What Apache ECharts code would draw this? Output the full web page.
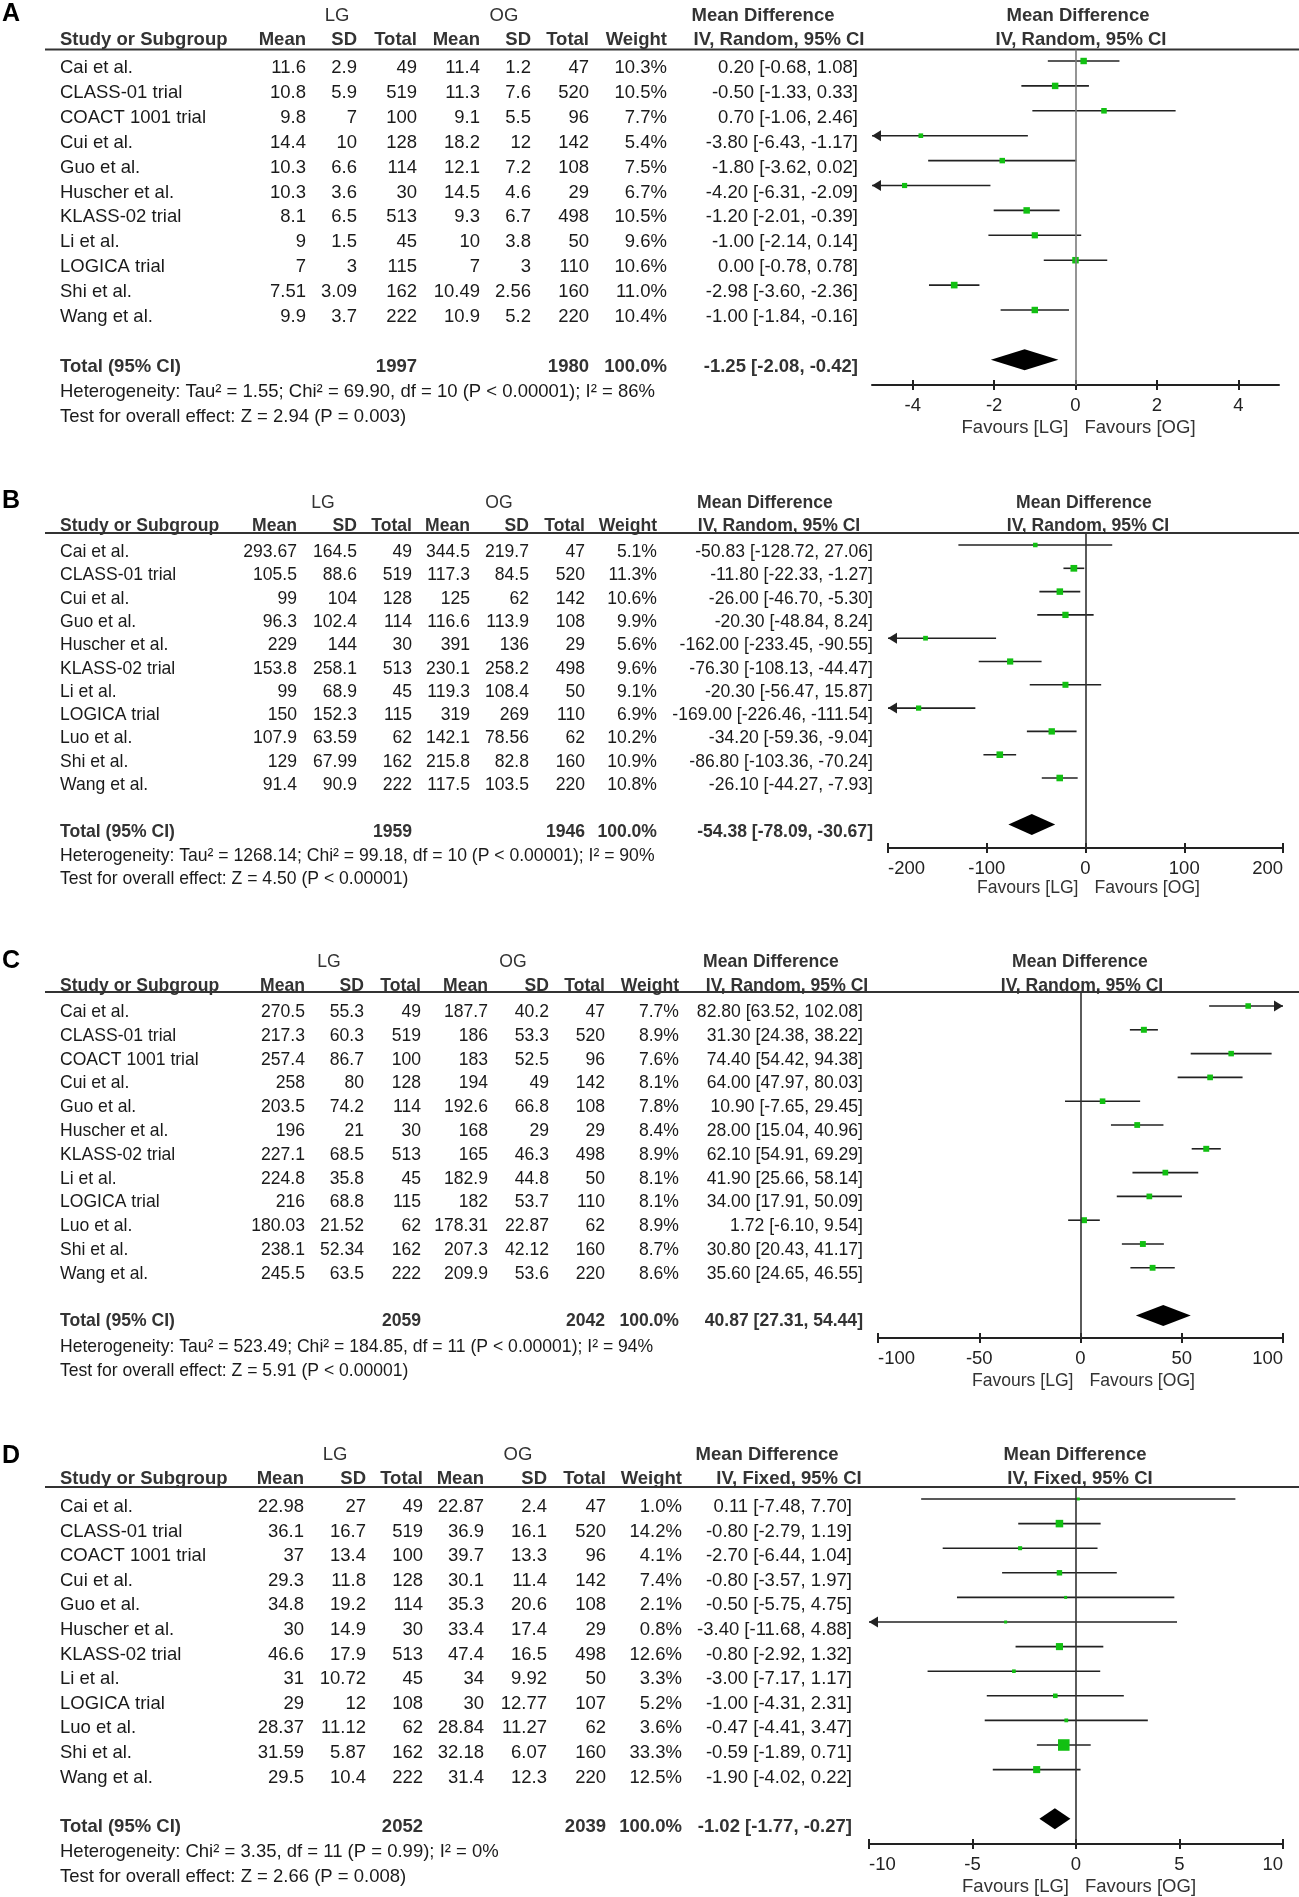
<!DOCTYPE html>
<html><head><meta charset="utf-8">
<script src="https://cdn.jsdelivr.net/npm/echarts@6/dist/echarts.min.js"></script>
<style>html,body{margin:0;padding:0;background:#fff}#c{width:1299px;height:1897px}</style>
</head><body><div id="c"></div>
<script>
// ---------------- DATA ----------------
// Panel A
const studyA = ['Cai et al.','CLASS-01 trial','COACT 1001 trial','Cui et al.','Guo et al.','Huscher et al.','KLASS-02 trial','Li et al.','LOGICA trial','Shi et al.','Wang et al.'];
const lgMeanA = [11.6,10.8,9.8,14.4,10.3,10.3,8.1,9,7,7.51,9.9];
const lgSdA   = [2.9,5.9,7,10,6.6,3.6,6.5,1.5,3,3.09,3.7];
const lgNA    = [49,519,100,128,114,30,513,45,115,162,222];
const ogMeanA = [11.4,11.3,9.1,18.2,12.1,14.5,9.3,10,7,10.49,10.9];
const ogSdA   = [1.2,7.6,5.5,12,7.2,4.6,6.7,3.8,3,2.56,5.2];
const ogNA    = [47,520,96,142,108,29,498,50,110,160,220];
const weightA = [10.3,10.5,7.7,5.4,7.5,6.7,10.5,9.6,10.6,11.0,10.4];
const mdA = [0.20,-0.50,0.70,-3.80,-1.80,-4.20,-1.20,-1.00,0.00,-2.98,-1.00];
const loA = [-0.68,-1.33,-1.06,-6.43,-3.62,-6.31,-2.01,-2.14,-0.78,-3.60,-1.84];
const hiA = [1.08,0.33,2.46,-1.17,0.02,-2.09,-0.39,0.14,0.78,-2.36,-0.16];
const totalA = [1997,1980,100.0,-1.25,-2.08,-0.42];
const hetA = 'Heterogeneity: Tau² = 1.55; Chi² = 69.90, df = 10 (P < 0.00001); I² = 86%';
const testA = 'Test for overall effect: Z = 2.94 (P = 0.003)';
const ticksA = [-4,-2,0,2,4];

// Panel B
const studyB = ['Cai et al.','CLASS-01 trial','Cui et al.','Guo et al.','Huscher et al.','KLASS-02 trial','Li et al.','LOGICA trial','Luo et al.','Shi et al.','Wang et al.'];
const lgMeanB = [293.67,105.5,99,96.3,229,153.8,99,150,107.9,129,91.4];
const lgSdB   = [164.5,88.6,104,102.4,144,258.1,68.9,152.3,63.59,67.99,90.9];
const lgNB    = [49,519,128,114,30,513,45,115,62,162,222];
const ogMeanB = [344.5,117.3,125,116.6,391,230.1,119.3,319,142.1,215.8,117.5];
const ogSdB   = [219.7,84.5,62,113.9,136,258.2,108.4,269,78.56,82.8,103.5];
const ogNB    = [47,520,142,108,29,498,50,110,62,160,220];
const weightB = [5.1,11.3,10.6,9.9,5.6,9.6,9.1,6.9,10.2,10.9,10.8];
const mdB = [-50.83,-11.80,-26.00,-20.30,-162.00,-76.30,-20.30,-169.00,-34.20,-86.80,-26.10];
const loB = [-128.72,-22.33,-46.70,-48.84,-233.45,-108.13,-56.47,-226.46,-59.36,-103.36,-44.27];
const hiB = [27.06,-1.27,-5.30,8.24,-90.55,-44.47,15.87,-111.54,-9.04,-70.24,-7.93];
const totalB = [1959,1946,100.0,-54.38,-78.09,-30.67];
const hetB = 'Heterogeneity: Tau² = 1268.14; Chi² = 99.18, df = 10 (P < 0.00001); I² = 90%';
const testB = 'Test for overall effect: Z = 4.50 (P < 0.00001)';
const ticksB = [-200,-100,0,100,200];

// Panel C
const studyC = ['Cai et al.','CLASS-01 trial','COACT 1001 trial','Cui et al.','Guo et al.','Huscher et al.','KLASS-02 trial','Li et al.','LOGICA trial','Luo et al.','Shi et al.','Wang et al.'];
const lgMeanC = [270.5,217.3,257.4,258,203.5,196,227.1,224.8,216,180.03,238.1,245.5];
const lgSdC   = [55.3,60.3,86.7,80,74.2,21,68.5,35.8,68.8,21.52,52.34,63.5];
const lgNC    = [49,519,100,128,114,30,513,45,115,62,162,222];
const ogMeanC = [187.7,186,183,194,192.6,168,165,182.9,182,178.31,207.3,209.9];
const ogSdC   = [40.2,53.3,52.5,49,66.8,29,46.3,44.8,53.7,22.87,42.12,53.6];
const ogNC    = [47,520,96,142,108,29,498,50,110,62,160,220];
const weightC = [7.7,8.9,7.6,8.1,7.8,8.4,8.9,8.1,8.1,8.9,8.7,8.6];
const mdC = [82.80,31.30,74.40,64.00,10.90,28.00,62.10,41.90,34.00,1.72,30.80,35.60];
const loC = [63.52,24.38,54.42,47.97,-7.65,15.04,54.91,25.66,17.91,-6.10,20.43,24.65];
const hiC = [102.08,38.22,94.38,80.03,29.45,40.96,69.29,58.14,50.09,9.54,41.17,46.55];
const totalC = [2059,2042,100.0,40.87,27.31,54.44];
const hetC = 'Heterogeneity: Tau² = 523.49; Chi² = 184.85, df = 11 (P < 0.00001); I² = 94%';
const testC = 'Test for overall effect: Z = 5.91 (P < 0.00001)';
const ticksC = [-100,-50,0,50,100];

// Panel D
const studyD = ['Cai et al.','CLASS-01 trial','COACT 1001 trial','Cui et al.','Guo et al.','Huscher et al.','KLASS-02 trial','Li et al.','LOGICA trial','Luo et al.','Shi et al.','Wang et al.'];
const lgMeanD = [22.98,36.1,37,29.3,34.8,30,46.6,31,29,28.37,31.59,29.5];
const lgSdD   = [27,16.7,13.4,11.8,19.2,14.9,17.9,10.72,12,11.12,5.87,10.4];
const lgND    = [49,519,100,128,114,30,513,45,108,62,162,222];
const ogMeanD = [22.87,36.9,39.7,30.1,35.3,33.4,47.4,34,30,28.84,32.18,31.4];
const ogSdD   = [2.4,16.1,13.3,11.4,20.6,17.4,16.5,9.92,12.77,11.27,6.07,12.3];
const ogND    = [47,520,96,142,108,29,498,50,107,62,160,220];
const weightD = [1.0,14.2,4.1,7.4,2.1,0.8,12.6,3.3,5.2,3.6,33.3,12.5];
const mdD = [0.11,-0.80,-2.70,-0.80,-0.50,-3.40,-0.80,-3.00,-1.00,-0.47,-0.59,-1.90];
const loD = [-7.48,-2.79,-6.44,-3.57,-5.75,-11.68,-2.92,-7.17,-4.31,-4.41,-1.89,-4.02];
const hiD = [7.70,1.19,1.04,1.97,4.75,4.88,1.32,1.17,2.31,3.47,0.71,0.22];
const totalD = [2052,2039,100.0,-1.02,-1.77,-0.27];
const hetD = 'Heterogeneity: Chi² = 3.35, df = 11 (P = 0.99); I² = 0%';
const testD = 'Test for overall effect: Z = 2.66 (P = 0.008)';
const ticksD = [-10,-5,0,5,10];

// ---------------- LAYOUT (positions only) ----------------
const FONT = '"Liberation Sans", Arial, Helvetica, sans-serif';
const FS = 18.5;
const layoutA = {label:'A', labelY:14, groupY:16, headY:40, lineY:49.5, rowY0:68, step:24.9, ciOff:7, hetY:392, testY:417,
  axisY:385, xMin:-5, xMax:5, plotL:872, plotR:1279, cols:[306,357,417,480,531,589,667], ciR:858, lgX:337, ogX:504,
  mdH:[763,779], rH:[1078,1081], favY:428, sx:1, zeroColor:'#7a7a7a', method:'IV, Random, 95% CI'};
const layoutB = {label:'B', labelY:501, groupY:503, headY:526, lineY:533, rowY0:552, step:23.3, ciOff:7, hetY:856, testY:879,
  axisY:848, xMin:-200, xMax:200, plotL:888, plotR:1283, cols:[297,357,412,470,529,585,657], ciR:873, lgX:323, ogX:499,
  mdH:[765,779], rH:[1084,1088], favY:888, sx:0.95, zeroColor:'#333', method:'IV, Random, 95% CI'};
const layoutC = {label:'C', labelY:961.5, groupY:962, headY:986, lineY:992, rowY0:1012, step:23.8, ciOff:6, hetY:1347, testY:1371,
  axisY:1338, xMin:-100, xMax:100, plotL:878, plotR:1283, cols:[305,364,421,488,549,605,679], ciR:863, lgX:329, ogX:513,
  mdH:[771,787], rH:[1080,1082], favY:1381, sx:0.95, zeroColor:'#333', method:'IV, Random, 95% CI'};
const layoutD = {label:'D', labelY:1456, groupY:1455, headY:1479, lineY:1487, rowY0:1507, step:24.6, ciOff:8, hetY:1852, testY:1877,
  axisY:1844, xMin:-10, xMax:10, plotL:869, plotR:1283, cols:[304,366,423,484,547,606,682], ciR:852, lgX:335, ogX:518,
  mdH:[767,789], rH:[1075,1080], favY:1887, sx:1, zeroColor:'#333', method:'IV, Fixed, 95% CI'};

const panels = [
  {L:layoutA, study:studyA, cols:[lgMeanA,lgSdA,lgNA,ogMeanA,ogSdA,ogNA], weight:weightA, md:mdA, lo:loA, hi:hiA, total:totalA, het:hetA, test:testA, ticks:ticksA},
  {L:layoutB, study:studyB, cols:[lgMeanB,lgSdB,lgNB,ogMeanB,ogSdB,ogNB], weight:weightB, md:mdB, lo:loB, hi:hiB, total:totalB, het:hetB, test:testB, ticks:ticksB},
  {L:layoutC, study:studyC, cols:[lgMeanC,lgSdC,lgNC,ogMeanC,ogSdC,ogNC], weight:weightC, md:mdC, lo:loC, hi:hiC, total:totalC, het:hetC, test:testC, ticks:ticksC},
  {L:layoutD, study:studyD, cols:[lgMeanD,lgSdD,lgND,ogMeanD,ogSdD,ogND], weight:weightD, md:mdD, lo:loD, hi:hiD, total:totalD, het:hetD, test:testD, ticks:ticksD}
];

function txt(x, y, text, o) {
  o = o || {};
  return {type:'text', x:x, y:y, scaleX:o.sx || 1, silent:true, z:10,
    style:{x:0, y:0, text:String(text), fill:o.color || '#1a1a1a',
      font:(o.bold ? 'bold ' : '') + (o.size || FS) + 'px ' + FONT,
      textAlign:o.align || 'left', textVerticalAlign:'middle', verticalAlign:'middle'}};
}
function ci(m, l, h) { return m.toFixed(2) + ' [' + l.toFixed(2) + ', ' + h.toFixed(2) + ']'; }

const grids = [], xAxes = [], yAxes = [], series = [], graphics = [];
const headerNames = ['Mean','SD','Total','Mean','SD','Total','Weight'];

panels.forEach(function (p, k) {
  const L = p.L, n = p.study.length, sx = L.sx;
  const totalIdx = n + 1;
  const ciY0 = L.rowY0 - L.ciOff;
  const yMin = (L.lineY - ciY0) / L.step, yMax = (L.axisY - ciY0) / L.step;
  const rowY = function (i) { return L.rowY0 + i * L.step; };
  const zeroPx = L.plotL + (0 - L.xMin) / (L.xMax - L.xMin) * (L.plotR - L.plotL);

  // ---- texts ----
  graphics.push(txt(2, L.labelY, L.label, {bold:true, size:25, color:'#000'}));
  graphics.push(txt(L.lgX, L.groupY, 'LG', {align:'center', color:'#333', sx:sx}));
  graphics.push(txt(L.ogX, L.groupY, 'OG', {align:'center', color:'#333', sx:sx}));
  graphics.push(txt(L.mdH[0], L.groupY, 'Mean Difference', {align:'center', bold:true, color:'#333', sx:sx}));
  graphics.push(txt(L.mdH[1], L.headY, L.method, {align:'center', bold:true, color:'#333', sx:sx}));
  graphics.push(txt(L.rH[0], L.groupY, 'Mean Difference', {align:'center', bold:true, color:'#333', sx:sx}));
  graphics.push(txt(L.rH[1], L.headY, L.method, {align:'center', bold:true, color:'#333', sx:sx}));
  graphics.push(txt(60, L.headY, 'Study or Subgroup', {bold:true, color:'#333', sx:sx}));
  headerNames.forEach(function (h, j) {
    graphics.push(txt(L.cols[j], L.headY, h, {bold:true, color:'#333', align:'right', sx:sx}));
  });
  graphics.push({type:'line', silent:true, z:5, shape:{x1:45, y1:L.lineY, x2:1299, y2:L.lineY}, style:{stroke:'#333', lineWidth:2}});

  for (let i = 0; i < n; i++) {
    const y = rowY(i);
    graphics.push(txt(60, y, p.study[i], {sx:sx}));
    p.cols.forEach(function (arr, j) {
      graphics.push(txt(L.cols[j], y, arr[i], {align:'right', sx:sx}));
    });
    graphics.push(txt(L.cols[6], y, p.weight[i].toFixed(1) + '%', {align:'right', sx:sx}));
    graphics.push(txt(L.ciR, y, ci(p.md[i], p.lo[i], p.hi[i]), {align:'right', sx:sx}));
  }
  const ty = rowY(totalIdx);
  graphics.push(txt(60, ty, 'Total (95% CI)', {bold:true, color:'#333', sx:sx}));
  graphics.push(txt(L.cols[2], ty, p.total[0], {bold:true, color:'#333', align:'right', sx:sx}));
  graphics.push(txt(L.cols[5], ty, p.total[1], {bold:true, color:'#333', align:'right', sx:sx}));
  graphics.push(txt(L.cols[6], ty, p.total[2].toFixed(1) + '%', {bold:true, color:'#333', align:'right', sx:sx}));
  graphics.push(txt(L.ciR, ty, ci(p.total[3], p.total[4], p.total[5]), {bold:true, color:'#333', align:'right', sx:sx}));
  graphics.push(txt(60, L.hetY, p.het, {sx:sx}));
  graphics.push(txt(60, L.testY, p.test, {sx:sx}));
  graphics.push(txt(zeroPx - 7, L.favY, 'Favours [LG]', {align:'right', color:'#333', sx:sx}));
  graphics.push(txt(zeroPx + 9, L.favY, 'Favours [OG]', {align:'left', color:'#333', sx:sx}));

  // ---- axes ----
  const endTicks = p.ticks[0] === L.xMin;
  grids.push({left:L.plotL, top:L.lineY, width:L.plotR - L.plotL, height:L.axisY - L.lineY, containLabel:false, outerBoundsMode:'none'});
  xAxes.push({gridIndex:k, type:'value', min:L.xMin, max:L.xMax, position:'bottom',
    axisLine:{show:true, onZero:false, lineStyle:{color:'#222', width:2}},
    axisTick:{show:true, length:5, customValues:p.ticks, lineStyle:{color:'#222', width:2}},
    axisLabel:{show:true, customValues:p.ticks, fontSize:FS, fontFamily:FONT, color:'#222', margin:11,
      alignMinLabel: endTicks ? 'left' : 'center', alignMaxLabel: endTicks ? 'right' : 'center'},
    splitLine:{show:false}});
  xAxes.push({gridIndex:k, type:'value', min:L.xMin, max:L.xMax, position:'bottom',
    axisLine:{show:false, onZero:false},
    axisTick:{show:true, inside:true, length:5, customValues:p.ticks, lineStyle:{color:'#222', width:2}},
    axisLabel:{show:false}, splitLine:{show:false}});
  yAxes.push({gridIndex:k, type:'value', inverse:true, min:yMin, max:yMax, show:false, splitLine:{show:false}});

  // ---- marks ----
  const rows = [];
  for (let i = 0; i < n; i++) rows.push([p.md[i], i, p.lo[i], p.hi[i], p.weight[i]]);
  series.push({
    type:'custom', xAxisIndex:2 * k, yAxisIndex:k, data:rows, silent:true, z:3,
    renderItem:function (params, api) {
      const md = api.value(0), row = api.value(1), lo = api.value(2), hi = api.value(3), w = api.value(4);
      const lc = Math.max(lo, L.xMin), hc = Math.min(hi, L.xMax);
      const a = api.coord([lc, row]), b = api.coord([hc, row]), m = api.coord([md, row]);
      const kids = [{type:'line', shape:{x1:a[0], y1:a[1], x2:b[0], y2:b[1]}, style:{stroke:'#222', lineWidth:1.6}}];
      if (lo < L.xMin) kids.push({type:'polygon', shape:{points:[[a[0], a[1]], [a[0] + 9, a[1] - 5.5], [a[0] + 9, a[1] + 5.5]]}, style:{fill:'#222'}});
      if (hi > L.xMax) kids.push({type:'polygon', shape:{points:[[b[0], b[1]], [b[0] - 9, b[1] - 5.5], [b[0] - 9, b[1] + 5.5]]}, style:{fill:'#222'}});
      const s = Math.max(3, 2 * Math.sqrt(w));
      kids.push({type:'rect', shape:{x:m[0] - s / 2, y:m[1] - s / 2, width:s, height:s}, style:{fill:'#12c012'}});
      return {type:'group', children:kids};
    },
    markLine:{silent:true, symbol:['none', 'none'], label:{show:false}, animation:false,
      lineStyle:{color:L.zeroColor, width:1.6, type:'solid'}, data:[{xAxis:0}]}
  });
  series.push({
    type:'custom', xAxisIndex:2 * k, yAxisIndex:k, silent:true, z:4,
    data:[[p.total[3], totalIdx, p.total[4], p.total[5]]],
    renderItem:function (params, api) {
      const md = api.value(0), row = api.value(1), lo = api.value(2), hi = api.value(3);
      const a = api.coord([lo, row]), b = api.coord([hi, row]), m = api.coord([md, row]);
      return {type:'polygon', shape:{points:[[a[0], a[1]], [m[0], m[1] - 10.5], [b[0], b[1]], [m[0], m[1] + 10.5]]}, style:{fill:'#000'}};
    }
  });
});

const chart = echarts.init(document.getElementById('c'), null, {renderer:'canvas', width:1299, height:1897});
chart.setOption({
  animation:false, backgroundColor:'#fff',
  grid:grids, xAxis:xAxes, yAxis:yAxes, series:series, graphic:graphics
});
</script>
</body></html>
